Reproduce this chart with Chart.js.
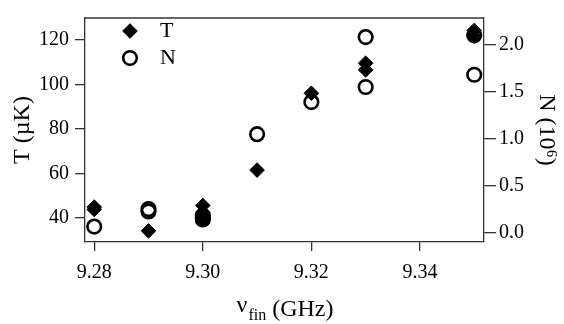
<!DOCTYPE html>
<html>
<head>
<meta charset="utf-8">
<script src="https://cdn.jsdelivr.net/npm/chart.js@4/dist/chart.umd.min.js"></script>
<style>
  html, body { margin: 0; padding: 0; background: #fff; }
  #wrap { width: 564px; height: 324px; }
</style>
</head>
<body>
<div id="wrap"><canvas id="chart" width="564" height="324"></canvas></div>
<script>
// T (µK) vs final frequency
const freqT = [9.28, 9.28, 9.29, 9.30, 9.30, 9.30, 9.31, 9.32, 9.33, 9.33, 9.35, 9.35];
const tempT = [44.9, 43.8, 34.2, 45.6, 42.5, 40.0, 61.5, 96.0, 109.5, 106.5, 124.2, 121.6];

// N (10^6) vs final frequency
const freqN = [9.28, 9.29, 9.29, 9.30, 9.30, 9.30, 9.31, 9.32, 9.33, 9.33, 9.35, 9.35];
const numN = [0.07, 0.255, 0.23, 0.185, 0.165, 0.145, 1.05, 1.39, 2.08, 1.55, 1.68, 2.10];

const xTicks = [9.28, 9.30, 9.32, 9.34];
const yTicks = [40, 60, 80, 100, 120];
const y2Ticks = [0, 0.5, 1.0, 1.5, 2.0];

const FONT = "'Liberation Serif', 'Times New Roman', serif";
const AXIS = '#333';

function pts(xs, ys) {
  return xs.map((x, i) => ({ x, y: ys[i] }));
}

function fixedTicks(values) {
  return (scale) => {
    scale.ticks = values.map((v) => ({ value: v }));
  };
}

// top edge of the box
const framePlugin = {
  id: 'frame',
  afterDraw(chart) {
    const { ctx, chartArea: a } = chart;
    ctx.save();
    ctx.strokeStyle = AXIS;
    ctx.lineWidth = 1.3;
    ctx.beginPath();
    ctx.moveTo(a.left, a.top);
    ctx.lineTo(a.right, a.top);
    ctx.stroke();
    ctx.restore();
  },
};

// legend in the upper left corner
const legendPlugin = {
  id: 'innerLegend',
  afterDraw(chart) {
    const { ctx } = chart;
    const rows = [
      { ds: chart.data.datasets[0], label: 'T', y: 31 },
      { ds: chart.data.datasets[1], label: 'N', y: 58 },
    ];
    ctx.save();
    rows.forEach((r) => {
      ctx.fillStyle = r.ds.backgroundColor;
      ctx.strokeStyle = r.ds.borderColor;
      ctx.lineWidth = r.ds.borderWidth;
      Chart.helpers.drawPoint(ctx, { pointStyle: r.ds.pointStyle, radius: r.ds.pointRadius, rotation: 0, borderWidth: r.ds.borderWidth }, 130, r.y);
      ctx.fillStyle = '#000';
      ctx.font = `22px ${FONT}`;
      ctx.textAlign = 'left';
      ctx.textBaseline = 'middle';
      ctx.fillText(r.label, 160, r.y);
    });
    ctx.restore();
  },
};

// x title with subscript
const xTitlePlugin = {
  id: 'xTitle',
  afterDraw(chart) {
    const { ctx, chartArea: a } = chart;
    const big = `24px ${FONT}`;
    const small = `16px ${FONT}`;
    const base = 316;
    ctx.save();
    ctx.fillStyle = '#000';
    ctx.textBaseline = 'alphabetic';
    ctx.textAlign = 'left';
    ctx.font = big;
    const w1 = ctx.measureText('\u03bd').width;
    const w3 = ctx.measureText(' (GHz)').width;
    ctx.font = small;
    const w2 = ctx.measureText('fin').width;
    let x = (a.left + a.right) / 2 - (w1 + w2 + w3) / 2;
    ctx.font = big;
    ctx.fillText('\u03bd', x, base - 4);
    x += w1 + 1;
    ctx.font = small;
    ctx.fillText('fin', x, base + 4);
    x += w2;
    ctx.font = big;
    ctx.fillText(' (GHz)', x, base);
    ctx.restore();
  },
};

new Chart(document.getElementById('chart'), {
  type: 'scatter',
  data: {
    datasets: [
      {
        label: 'T',
        data: pts(freqT, tempT),
        yAxisID: 'y',
        pointStyle: 'rectRot',
        pointRadius: 7.3,
        backgroundColor: '#000',
        borderColor: '#000',
        borderWidth: 1,
      },
      {
        label: 'N',
        data: pts(freqN, numN),
        yAxisID: 'y2',
        pointStyle: 'circle',
        pointRadius: 6.8,
        backgroundColor: 'rgba(0,0,0,0)',
        borderColor: '#000',
        borderWidth: 2.6,
      },
    ],
  },
  options: {
    responsive: false,
    animation: false,
    layout: { autoPadding: false, padding: { top: 7, left: 0, right: 0, bottom: 0 } },
    plugins: {
      legend: { display: false },
      tooltip: { enabled: false },
    },
    scales: {
      x: {
        type: 'linear',
        position: 'bottom',
        min: 9.2783,
        max: 9.3518,
        afterBuildTicks: fixedTicks(xTicks),
        afterFit: (s) => { s.height = 82; },
        ticks: {
          color: '#000',
          font: { family: FONT, size: 20 },
          padding: 10,
          maxRotation: 0,
          callback: (v) => Number(v).toFixed(2),
        },
        grid: { drawOnChartArea: false, drawTicks: true, tickLength: 9, color: AXIS, lineWidth: 1.3 },
        border: { display: true, color: AXIS, width: 1.3 },
        title: { display: false },
      },
      y: {
        type: 'linear',
        position: 'left',
        min: 29.2,
        max: 129.8,
        afterBuildTicks: fixedTicks(yTicks),
        afterFit: (s) => { s.width = 85; },
        ticks: {
          color: '#000',
          font: { family: FONT, size: 20 },
          padding: 6,
          callback: (v) => String(v),
        },
        grid: { drawOnChartArea: false, drawTicks: true, tickLength: 10, color: AXIS, lineWidth: 1.3 },
        border: { display: true, color: AXIS, width: 1.3 },
        title: {
          display: true,
          text: 'T (\u00b5K)',
          color: '#000',
          font: { family: FONT, size: 24 },
          padding: { top: 8, bottom: 0 },
        },
      },
      y2: {
        type: 'linear',
        position: 'right',
        min: -0.094,
        max: 2.282,
        afterBuildTicks: fixedTicks(y2Ticks),
        afterFit: (s) => { s.width = 80; },
        ticks: {
          color: '#000',
          font: { family: FONT, size: 20 },
          padding: 3,
          callback: (v) => Number(v).toFixed(1),
        },
        grid: { drawOnChartArea: false, drawTicks: true, tickLength: 12, color: AXIS, lineWidth: 1.3 },
        border: { display: true, color: AXIS, width: 1.3 },
        title: {
          display: true,
          text: 'N (10\u2076)',
          color: '#000',
          font: { family: FONT, size: 24 },
          padding: { top: 3, bottom: 0 },
        },
      },
    },
  },
  plugins: [framePlugin, legendPlugin, xTitlePlugin],
});
</script>
</body>
</html>
